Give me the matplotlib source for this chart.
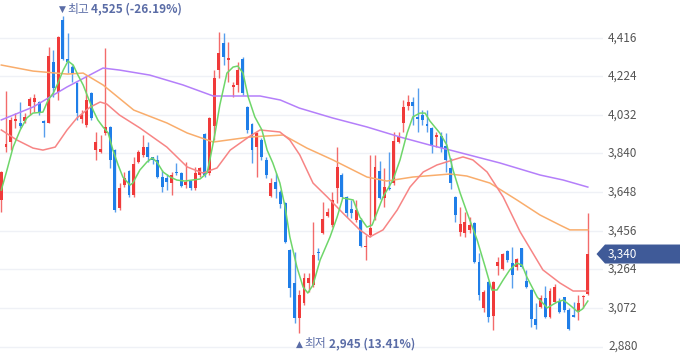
import matplotlib
matplotlib.use("Agg")
import matplotlib.pyplot as plt
from matplotlib.patches import Polygon
import numpy as np

plt.rcParams['font.family'] = ['Noto Sans CJK KR', 'DejaVu Sans']

# ---------------- data ----------------
opens = [3609, 3872, 3897, 4002, 3992, 4002, 4076, 4096, 4096, 4002,
         3992, 4295, 4146, 4504, 4310, 4270, 4191, 4012, 3982, 4141,
         3857, 3847, 3942, 3972, 3857, 3569, 3683, 3753, 3634, 3798,
         3833, 3872, 3823, 3808, 3723, 3720, 3693, 3748, 3743, 3683,
         3703, 3668, 3733, 3937, 3743, 3977, 4255, 4390, 4305, 4171,
         4181, 4310, 4071, 3987, 3872, 3907, 3808, 3629, 3698, 3648,
         3594, 3360, 3196, 3022, 3096, 3196, 3186, 3350, 3445, 3529,
         3484, 3668, 3733, 3624, 3564, 3509, 3509, 3375, 3435, 3519,
         3753, 3619, 3668, 3693, 3897, 3992, 4076, 4096, 4022, 4031,
         3987, 3967, 3922, 3927, 3877, 3768, 3624, 3450, 3445, 3460,
         3494, 3300, 3072, 3201, 3032, 3280, 3265, 3355, 3295, 3275,
         3370, 3206, 3161, 3017, 3077, 3121, 3027, 3101, 3106, 3126,
         3062, 3037, 3052, 3126, 3141]
highs = [3755, 4151, 4022, 4041, 4096, 4041, 4121, 4136, 4100, 4007,
         4370, 4355, 4425, 4525, 4439, 4280, 4195, 4056, 4230, 4145,
         3947, 3932, 4365, 3975, 3860, 3693, 3748, 3758, 3823, 3857,
         3932, 3897, 3825, 3833, 3758, 3740, 3748, 3793, 3748, 3798,
         3708, 3773, 3773, 3942, 4022, 4255, 4444, 4439, 4395, 4196,
         4295, 4320, 4076, 3992, 3947, 3917, 3823, 3718, 3743, 3658,
         3599, 3365, 3350, 3161, 3246, 3246, 3499, 3370, 3599, 3569,
         3648, 3872, 3743, 3628, 3609, 3609, 3519, 3435, 3833, 3833,
         3803, 3768, 3847, 3947, 3947, 4106, 4131, 4121, 4166, 4056,
         4056, 3972, 3947, 3947, 3942, 3818, 3628, 3574, 3549, 3524,
         3499, 3345, 3161, 3205, 3205, 3325, 3345, 3360, 3375, 3320,
         3372, 3261, 3165, 3096, 3136, 3181, 3171, 3191, 3121, 3128,
         3072, 3101, 3136, 3136, 3544]
lows = [3549, 3847, 3857, 3967, 3967, 3992, 4031, 4046, 4031, 3922,
        3990, 4121, 4106, 4305, 4240, 4196, 4007, 3992, 3972, 4007,
        3808, 3842, 3932, 3768, 3549, 3559, 3673, 3624, 3624, 3793,
        3823, 3798, 3788, 3718, 3648, 3660, 3634, 3733, 3673, 3668,
        3658, 3658, 3723, 3723, 3733, 3907, 4215, 4280, 4196, 4121,
        4146, 4131, 3942, 3793, 3723, 3808, 3718, 3624, 3619, 3569,
        3395, 3126, 2997, 2945, 3086, 3151, 3176, 3310, 3440, 3524,
        3474, 3594, 3619, 3524, 3519, 3499, 3375, 3310, 3425, 3509,
        3615, 3574, 3658, 3683, 3892, 3947, 4056, 3982, 3947, 3982,
        3947, 3842, 3872, 3847, 3748, 3663, 3499, 3430, 3425, 3445,
        3295, 3111, 3052, 3002, 2962, 3236, 3261, 3300, 3171, 3261,
        3270, 3171, 2977, 2967, 3072, 3022, 3022, 3096, 3047, 3052,
        2962, 3027, 3012, 3072, 3136]
closes = [3748, 3887, 4007, 4012, 3977, 4022, 4111, 4116, 4046, 3992,
          4325, 4166, 4419, 4310, 4295, 4240, 4041, 4031, 4106, 4017,
          3897, 3862, 3972, 3808, 3559, 3668, 3718, 3634, 3788, 3847,
          3872, 3823, 3808, 3723, 3673, 3700, 3733, 3743, 3678, 3698,
          3668, 3743, 3768, 3733, 4017, 4215, 4340, 4320, 4315, 4181,
          4255, 4141, 3957, 3857, 3942, 3823, 3733, 3693, 3663, 3589,
          3400, 3171, 3022, 3136, 3221, 3221, 3335, 3345, 3514, 3549,
          3609, 3773, 3624, 3544, 3544, 3559, 3380, 3380, 3469, 3773,
          3619, 3673, 3663, 3902, 3922, 4071, 4096, 4076, 4012, 4007,
          3977, 3877, 3932, 3867, 3808, 3693, 3534, 3489, 3499, 3484,
          3300, 3136, 3151, 3027, 3201, 3300, 3340, 3310, 3236, 3315,
          3275, 3176, 3017, 2987, 3121, 3027, 3156, 3176, 3052, 3062,
          2967, 3027, 3096, 3131, 3340]

# moving averages (day index, value)
ma5_day = [0, 1.2, 2.5, 4, 5.4, 6.7, 8.8, 9.9, 11, 12, 13.1, 14.1, 15.2, 16.2, 17.3,
           18.3, 19.4, 20.4, 21.5, 22.6, 23.6, 24.7, 25.7, 27.2, 27.8, 29.3, 30.8,
           31.9, 32.9, 34.2, 35.7, 37.1, 38.8, 42, 43.5, 44.1, 45.2, 46.2, 47.7, 49,
           50, 51.1, 52.2, 53.6, 55.1, 56.2, 57.4, 58.9, 60, 61, 62.5, 63.8, 64.8,
           65.9, 67.4, 69.5, 71, 72.2, 74.4, 75.8, 77.3, 78.4, 79.4, 80.7, 82.8,
           84.3, 85.8, 87, 88.5, 89.6, 90.6, 92.7, 94.2, 95.5, 97, 98.5, 100.6,
           102.3, 103.7, 104.8, 106.1, 107.5, 109, 110.1, 111.1, 113.3, 115.4,
           117.5, 118.8, 120.2, 121.9, 122.9, 124]
ma5_val = [3658, 3758, 3872, 3957, 4017, 4041, 4046, 4106, 4141, 4191, 4255, 4300,
           4280, 4230, 4181, 4121, 4056, 4007, 3972, 3942, 3857, 3783, 3723, 3683,
           3693, 3758, 3798, 3818, 3798, 3748, 3723, 3708, 3703, 3713, 3743, 3808,
           3942, 4081, 4240, 4270, 4275, 4240, 4121, 4022, 3957, 3857, 3793, 3693,
           3574, 3425, 3275, 3176, 3146, 3186, 3310, 3425, 3524, 3619, 3609, 3524,
           3474, 3484, 3544, 3624, 3708, 3808, 3942, 4022, 4041, 4041, 4002, 3942,
           3882, 3758, 3644, 3544, 3410, 3276, 3161, 3161, 3211, 3261, 3295, 3285,
           3226, 3126, 3072, 3101, 3111, 3086, 3052, 3067, 3106]

ma20_day = [0, 3.3, 6.7, 8.8, 11.4, 13.9, 16, 18.8, 20.9, 22.3, 25, 29.3, 35, 39.3,
            42.6, 45.6, 48.4, 52.6, 54.7, 58.9, 61, 63.1, 65.9, 68.9, 72.2, 75.8,
            77.9, 80.7, 83.7, 86.4, 89.2, 92.1, 95.5, 97.6, 99.7, 102.7, 106.1,
            109.7, 114.5, 118.1, 120.9, 124]
ma20_val = [3957, 3907, 3867, 3857, 3872, 3957, 4017, 4071, 4096, 4086, 4031, 3967,
            3872, 3773, 3743, 3768, 3857, 3927, 3957, 3947, 3907, 3833, 3693, 3624,
            3544, 3460, 3425, 3460, 3559, 3673, 3748, 3783, 3808, 3823, 3808, 3748,
            3624, 3450, 3261, 3196, 3156, 3156]

ma60_day = [0, 6.7, 14, 17.3, 21.5, 28, 35, 39.3, 44.8, 52.6, 59.6, 64.6, 70.1, 77.3,
            81.5, 87, 94.9, 98.4, 103.3, 109, 113.9, 118.1, 120.2, 124]
ma60_val = [4280, 4250, 4235, 4240, 4181, 4056, 3992, 3942, 3897, 3922, 3932, 3867,
            3808, 3723, 3703, 3723, 3738, 3728, 3693, 3609, 3534, 3484, 3460, 3460]

ma120_day = [0, 6.7, 13.9, 21.5, 25, 31.4, 38.4, 44.8, 54.7, 59, 63, 70, 77.3, 84.3,
             90.6, 94.9, 105.4, 113.9, 118.8, 124]
ma120_val = [4007, 4071, 4171, 4265, 4255, 4230, 4181, 4126, 4126, 4106, 4066, 4017,
             3972, 3922, 3882, 3857, 3793, 3733, 3708, 3673]

y_ticks = [2880, 3072, 3264, 3456, 3648, 3840, 4032, 4224, 4416]
last_price = 3340
high_label = ("최고", "4,525 (-26.19%)")
low_label = ("최저", "2,945 (13.41%)")

# ---------------- styling ----------------
W, H = 680, 358
UP = "#f03a3a"
DOWN = "#1f7ee8"
C5, C20, C60, C120 = "#6fd66a", "#f78585", "#f9ad6c", "#b47ffa"
LABEL = "#5a6ca6"

fig = plt.figure(figsize=(W / 100, H / 100), dpi=100)
fig.patch.set_facecolor("white")

plot_w = 603
ax = fig.add_axes([0, 0, plot_w / W, 1])
px_per_day = 4.73
x0 = 1.3
ax.set_xlim(-x0 / px_per_day, (plot_w - x0) / px_per_day)
top_price = 4603.5
px_per_unit = 1 / 4.974
ax.set_ylim(top_price - H / px_per_unit, top_price)
ax.axis("off")

for t in y_ticks:
    ax.axhline(t, color="#eff1f6", lw=1.0, zorder=0)

n = len(closes)
xs = np.arange(n)
o = np.array(opens); c = np.array(closes); h = np.array(highs); l = np.array(lows)
up = c >= o
cols = np.where(up, UP, DOWN)

ax.vlines(xs, l, h, colors=cols, lw=1.0, alpha=0.75, zorder=2)
bottom = np.minimum(o, c)
height = np.maximum(np.abs(c - o), 5)
ax.bar(xs, height, bottom=bottom, width=0.62, color=cols, linewidth=0, zorder=3)

ax.plot(ma120_day, ma120_val, color=C120, lw=1.1, zorder=4)
ax.plot(ma60_day, ma60_val, color=C60, lw=1.1, zorder=4)
ax.plot(ma20_day, ma20_val, color=C20, lw=1.1, zorder=4)
ax.plot(ma5_day, ma5_val, color=C5, lw=1.1, zorder=4)

def py(price):
    return (price - (top_price - H / px_per_unit)) / (H / px_per_unit)

# right axis labels
for t in y_ticks:
    fig.text(608 / W, py(t), f"{t:,}", ha="left", va="center",
             fontsize=8.5, color="#555555")

# current price tag
yc = py(last_price)
hh = 9.5 / H
poly = Polygon([(596.5 / W, yc), (605 / W, yc + hh), (W / W, yc + hh),
                (W / W, yc - hh), (605 / W, yc - hh)], closed=True,
               transform=fig.transFigure, facecolor="#3f5a98", edgecolor="none",
               zorder=10)
fig.patches.append(poly)
fig.text(608 / W, yc, f"{last_price:,}", ha="left", va="center",
         fontsize=8.5, color="white", zorder=11)

# high / low annotations
fig.text(59 / W, 1 - 9 / H, "▼", ha="left", va="center", fontsize=6.5,
         color=LABEL, family=["DejaVu Sans"])
fig.text(67 / W, 1 - 9 / H, high_label[0], ha="left", va="center",
         fontsize=8.5, color=LABEL)
fig.text(91 / W, 1 - 9 / H, high_label[1], ha="left", va="center",
         fontsize=8.5, color=LABEL, fontweight="bold")

fig.text(296 / W, 1 - 344 / H, "▲", ha="left", va="center", fontsize=6.5,
         color=LABEL, family=["DejaVu Sans"])
fig.text(304 / W, 1 - 344 / H, low_label[0], ha="left", va="center",
         fontsize=8.5, color=LABEL)
fig.text(329 / W, 1 - 344 / H, low_label[1], ha="left", va="center",
         fontsize=8.5, color=LABEL, fontweight="bold")

fig.savefig("out.png", dpi=100, facecolor="white")
